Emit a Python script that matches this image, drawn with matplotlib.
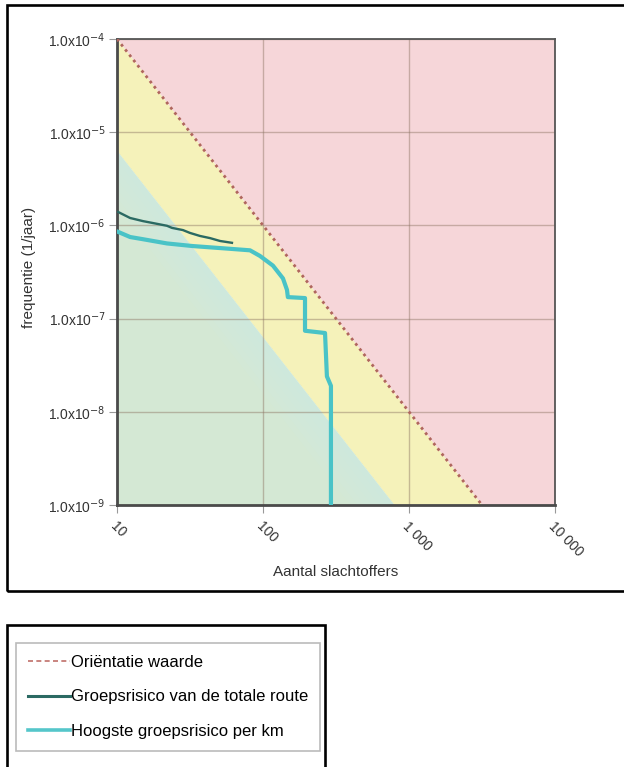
import numpy as np
import matplotlib.pyplot as plt
from matplotlib.patches import Rectangle
from matplotlib.lines import Line2D

plt.rcParams['font.family'] = ['Liberation Sans', 'DejaVu Sans']

# orientation value (dotted line) and zone borders
orient_n = [10, 3162]
orient_f = [1e-4, 1e-9]
green_n = [10, 794]
green_f = [6.3e-6, 1e-9]

# group risk of the whole route
total_n = [10.2, 12.3, 15.1, 17.6, 22.0, 23.8, 28.3, 31.6, 37.0, 43.4, 50.8, 61.3]
total_f = [1.39e-6, 1.20e-6, 1.11e-6, 1.06e-6, 9.9e-7, 9.4e-7, 8.9e-7, 8.3e-7,
           7.7e-7, 7.3e-7, 6.8e-7, 6.5e-7]

# highest group risk per km
peak_n = [10.2, 12.3, 15.1, 22.0, 33.0, 60.0, 81.5, 95.3, 117, 137, 146, 148,
          194, 194, 266, 274, 292, 292]
peak_f = [8.5e-7, 7.5e-7, 7.1e-7, 6.4e-7, 6.0e-7, 5.6e-7, 5.4e-7, 4.7e-7, 3.7e-7,
          2.7e-7, 2.03e-7, 1.7e-7, 1.66e-7, 7.4e-8, 7.0e-8, 2.4e-8, 1.9e-8, 1e-9]

x_ticks = [10, 100, 1000, 10000]
x_labels = ['10', '100', '1 000', '10 000']
y_ticks = [1e-9, 1e-8, 1e-7, 1e-6, 1e-5, 1e-4]
y_labels = ['1.0x10$^{-9}$', '1.0x10$^{-8}$', '1.0x10$^{-7}$',
            '1.0x10$^{-6}$', '1.0x10$^{-5}$', '1.0x10$^{-4}$']

xmin, xmax = 10, 10000
ymin, ymax = 1e-9, 1e-4

fig = plt.figure(figsize=(6.24, 7.67), dpi=100)
ax = fig.add_axes([0.1875, 0.3416, 0.7019, 0.6076])
ax.set_xscale('log')
ax.set_yscale('log')
ax.set_xlim(xmin, xmax)
ax.set_ylim(ymin, ymax)

# zones
ax.fill([orient_n[0], xmax, xmax, orient_n[1]],
        [orient_f[0], ymax, ymin, orient_f[1]], color='#f6d6d9', lw=0, zorder=0)
ax.fill([orient_n[0], orient_n[1], green_n[1], green_n[0]],
        [orient_f[0], orient_f[1], green_f[1], green_f[0]], color='#f5f2ba', lw=0, zorder=0)
ax.fill([green_n[0], green_n[1], xmin],
        [green_f[0], green_f[1], ymin], color='#d4e8d4', lw=0, zorder=0)
# soft cyan fringe below the green border
for k in [0.1, 0.2, 0.3, 0.4, 0.5, 0.6]:
    s = 10 ** (-k)
    ax.fill([green_n[0], green_n[1], green_n[1] * s ** 0.5, green_n[0]],
            [green_f[0], green_f[1], ymin, green_f[0] * s],
            color='#cdeee8', alpha=0.12, lw=0, zorder=0.5)

ax.grid(True, which='major', color='#8c7462', alpha=0.45, lw=1.0, zorder=1)
ax.grid(True, which='minor', color='#c9b98a', alpha=0.22, lw=0.6, zorder=1)

ax.plot(orient_n, orient_f, color='#b0665e', lw=2.0, ls=(0, (1, 1.4)), zorder=3)
ax.plot(peak_n, peak_f, color='#49c3c7', lw=3.0, zorder=4, solid_joinstyle='round')
ax.plot(total_n, total_f, color='#2b6a63', lw=1.7, zorder=5)

ax.set_xticks(x_ticks)
ax.set_xticklabels([])
ax.set_yticks(y_ticks)
ax.set_yticklabels(y_labels, fontsize=10, color='#333333')
ax.minorticks_off()
ax.tick_params(axis='both', which='major', length=6, width=0.8, color='#999999', pad=2)

for n, lab in zip(x_ticks, x_labels):
    ax.annotate(lab, xy=(n, ymin), xycoords='data', xytext=(-3, -14),
                textcoords='offset points', rotation=-45, rotation_mode='anchor',
                ha='left', va='center', fontsize=10, color='#333333')

ax.set_ylabel('frequentie (1/jaar)', fontsize=11, color='#333333', va='center')
ax.yaxis.set_label_coords(-0.2, 0.509)
ax.set_xlabel('Aantal slachtoffers', fontsize=11, color='#333333', va='center')
ax.xaxis.set_label_coords(0.5, -0.144)

for side in ['left', 'bottom']:
    ax.spines[side].set_linewidth(2.0)
    ax.spines[side].set_color('#4a4a4a')
for side in ['top', 'right']:
    ax.spines[side].set_linewidth(1.3)
    ax.spines[side].set_color('#555555')

W, H = 624, 767
# outer frames
fig.add_artist(Rectangle((7 / W, 1 - 591 / H), 1.02 - 7 / W, 586 / H,
                         transform=fig.transFigure, fill=False, ec='black', lw=1.9))
fig.add_artist(Rectangle((7 / W, -0.05), (325 - 7) / W, 1 - 625 / H + 0.05,
                         transform=fig.transFigure, fill=False, ec='black', lw=1.9))

handles = [
    Line2D([], [], color='#c0706a', lw=1.2, ls=(0, (3, 2))),
    Line2D([], [], color='#2b6a63', lw=2.2),
    Line2D([], [], color='#55c6ca', lw=2.6),
]
labels = ['Oriëntatie waarde', 'Groepsrisico van de totale route', 'Hoogste groepsrisico per km']
leg = fig.legend(handles, labels, loc='upper left', bbox_to_anchor=(16 / W, 1 - 643 / H),
                 bbox_transform=fig.transFigure, borderaxespad=0, fontsize=12,
                 handlelength=2.5, handletextpad=0.08, labelspacing=1.17, borderpad=0.72,
                 fancybox=False, frameon=True, edgecolor='#bbbbbb', framealpha=1)
leg.get_frame().set_linewidth(1.2)

fig.savefig('out.png', dpi=100)
